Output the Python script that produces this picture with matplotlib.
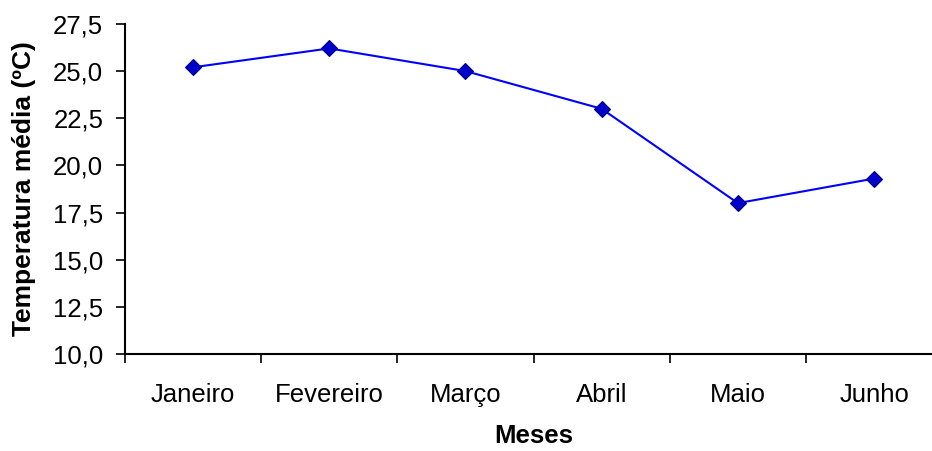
import matplotlib.pyplot as plt
from matplotlib.ticker import FuncFormatter, FixedLocator

plt.rcParams['font.family'] = ['Liberation Sans', 'DejaVu Sans']

meses = ["Janeiro", "Fevereiro", "Março", "Abril", "Maio", "Junho"]
temperatura = [25.2, 26.2, 25.0, 23.0, 18.0, 19.3]
y_ticks = [10.0, 12.5, 15.0, 17.5, 20.0, 22.5, 25.0, 27.5]

fig = plt.figure(figsize=(9.32, 4.51), dpi=100)
ax = fig.add_axes([0.134, 0.215, 0.877, 0.732])

x = list(range(len(meses)))
ax.plot(x, temperatura, color='#0000FF', linewidth=1.5,
        marker='D', markersize=8, markerfacecolor='#0000CC',
        markeredgecolor='#000080', markeredgewidth=0.8)

ax.set_xlim(-0.5, len(meses) - 0.5)
ax.set_ylim(10, 27.5)
ax.set_yticks(y_ticks)
ax.yaxis.set_major_formatter(FuncFormatter(lambda v, p: f"{v:.1f}".replace('.', ',')))

ax.set_xticks(x)
ax.set_xticklabels(meses)
ax.xaxis.set_minor_locator(FixedLocator([i - 0.5 for i in range(len(meses) + 1)]))
ax.tick_params(axis='x', which='major', length=0, pad=21, labelsize=18.5)
ax.tick_params(axis='x', which='minor', length=6.5, width=1.2, direction='out')
ax.tick_params(axis='y', length=6.5, width=1.2, direction='out', labelsize=18.5, pad=9)

for s in ['top', 'right']:
    ax.spines[s].set_visible(False)
for s in ['left', 'bottom']:
    ax.spines[s].set_linewidth(1.5)

ax.set_xlabel("Meses", fontsize=18.5, fontweight='bold', labelpad=12)
ax.set_ylabel("Temperatura média (ºC)", fontsize=19, fontweight='bold', labelpad=12)

fig.savefig("out.png", dpi=100)
